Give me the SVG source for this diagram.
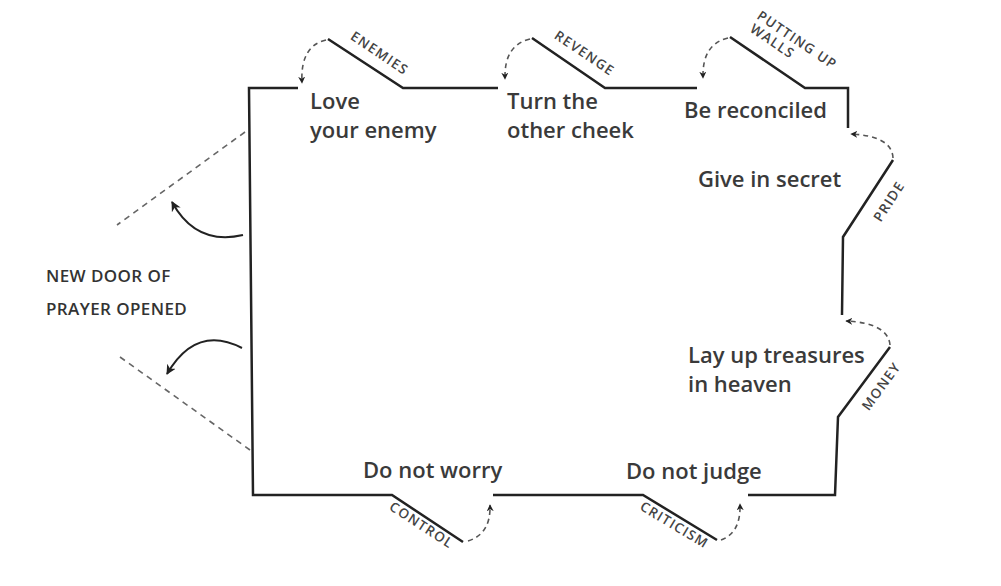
<svg xmlns="http://www.w3.org/2000/svg" width="1001" height="586" viewBox="0 0 1001 586">
<defs>
<style>
.wall{fill:none;stroke:#222;stroke-width:2.5;stroke-linejoin:miter}
.dash{fill:none;stroke:#555;stroke-width:1.6;stroke-dasharray:5 4}
.door{fill:none;stroke:#666;stroke-width:1.6;stroke-dasharray:6 5}
.swing{fill:none;stroke:#222;stroke-width:2}
.main{font-family:"Open Sans","Liberation Sans",sans-serif;font-size:22px;font-weight:600;fill:#3a3a3a}
.tag{font-family:"Open Sans","Liberation Sans",sans-serif;font-size:13.5px;font-weight:600;fill:#444;letter-spacing:1.3px}
.note{font-family:"Open Sans","Liberation Sans",sans-serif;font-size:17px;font-weight:600;fill:#333;letter-spacing:0.4px}
</style>
<marker id="ah" viewBox="0 0 10 10" refX="9" refY="5" markerWidth="7" markerHeight="7" markerUnits="userSpaceOnUse" orient="auto"><path d="M0,0 L10,5 L0,10 L3,5 z" fill="#222"/></marker>
<marker id="ah2" viewBox="0 0 10 10" refX="9" refY="5" markerWidth="10" markerHeight="10" markerUnits="userSpaceOnUse" orient="auto"><path d="M0,0 L10,5 L0,10 L3,5 z" fill="#222"/></marker>
</defs>
<rect width="1001" height="586" fill="#fff"/>
<g id="connectors">
<path class="wall" d="M298,88 L249,88 L253,495 L392,495 L463,542"/>
<path class="wall" d="M328,39 L403,88 L498,88"/>
<path class="wall" d="M532,38 L605,88 L697,88"/>
<path class="wall" d="M730,37 L805,88 L848,88 L848,128"/>
<path class="wall" d="M893,160 L843,237 L842,315"/>
<path class="wall" d="M890,347 L838,417 L835,495 L748,495"/>
<path class="wall" d="M717,540 L643,495 L493,495"/>
<path class="dash" marker-end="url(#ah)" d="M326,40 Q300,46 302,83"/>
<path class="dash" marker-end="url(#ah)" d="M530,39 Q504,45 505,79"/>
<path class="dash" marker-end="url(#ah)" d="M728,38 Q702,44 703,78"/>
<path class="dash" marker-end="url(#ah)" d="M893,158 Q892,136 851,134"/>
<path class="dash" marker-end="url(#ah)" d="M890,345 Q888,323 846,321"/>
<path class="dash" marker-end="url(#ah)" d="M468,541 Q491,534 490,505"/>
<path class="dash" marker-end="url(#ah)" d="M721,540 Q741,533 740,504"/>
<path class="door" d="M245,132 L117,225"/>
<path class="door" d="M120,357 L250,450"/>
<path class="swing" marker-end="url(#ah2)" d="M243,235 Q196,246 172,202"/>
<path class="swing" marker-end="url(#ah2)" d="M242,348 Q196,324 167,374"/>
</g>
<g id="love"><text class="main" x="310" y="109">Love</text><text class="main" x="310" y="138">your enemy</text></g>
<g id="cheek"><text class="main" x="507" y="109">Turn the</text><text class="main" x="507" y="138">other cheek</text></g>
<g id="reconciled"><text class="main" x="684" y="118">Be reconciled</text></g>
<g id="secret"><text class="main" x="698" y="187">Give in secret</text></g>
<g id="treasures"><text class="main" x="688" y="363">Lay up treasures</text><text class="main" x="688" y="392">in heaven</text></g>
<g id="judge"><text class="main" x="626" y="479">Do not judge</text></g>
<g id="worry"><text class="main" x="363" y="478">Do not worry</text></g>
<g id="door"><text class="note" x="46" y="282">NEW DOOR OF</text><text class="note" x="46" y="315">PRAYER OPENED</text></g>
<g id="t-enemies"><text class="tag" text-anchor="middle" transform="translate(377,57) rotate(34)">ENEMIES</text></g>
<g id="t-revenge"><text class="tag" text-anchor="middle" transform="translate(582,57) rotate(34)">REVENGE</text></g>
<g id="t-walls"><text class="tag" transform="translate(756,18) rotate(34)">PUTTING UP</text><text class="tag" transform="translate(749,31) rotate(34)">WALLS</text></g>
<g id="t-pride"><text class="tag" text-anchor="middle" transform="translate(893,204) rotate(-57)">PRIDE</text></g>
<g id="t-money"><text class="tag" text-anchor="middle" transform="translate(885,389) rotate(-54)">MONEY</text></g>
<g id="t-control"><text class="tag" text-anchor="middle" transform="translate(419,529) rotate(33)">CONTROL</text></g>
<g id="t-criticism"><text class="tag" text-anchor="middle" transform="translate(672,529) rotate(31)">CRITICISM</text></g>
</svg>
